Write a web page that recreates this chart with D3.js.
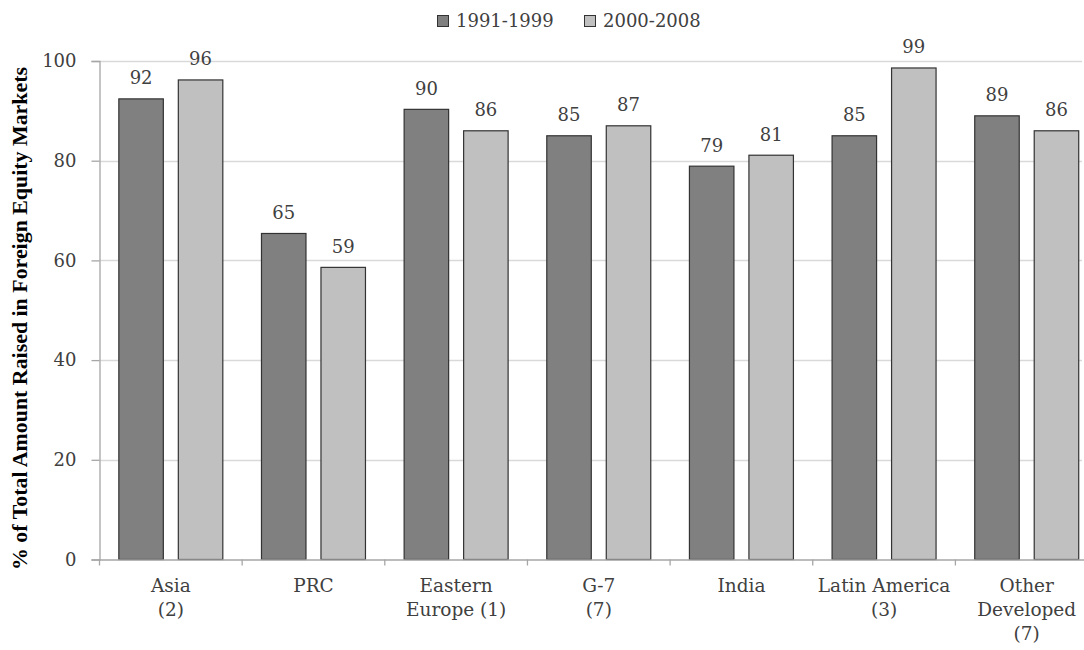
<!DOCTYPE html>
<html><head><meta charset="utf-8">
<script src="https://cdn.jsdelivr.net/npm/d3@7"></script>
<style>body{margin:0;background:#fff}svg{display:block}</style>
</head><body>
<svg id="c" width="1084" height="650"></svg>
<script>
const categories = ["Asia|(2)", "PRC", "Eastern|Europe (1)", "G-7|(7)", "India", "Latin America|(3)", "Other|Developed|(7)"];
const seriesNames = ["1991-1999", "2000-2008"];
const values1991 = [92.4, 65.4, 90.3, 85.0, 78.9, 85.0, 89.0];
const values2000 = [96.2, 58.6, 86.0, 87.0, 81.1, 98.6, 86.0];
const yTicks = [0, 20, 40, 60, 80, 100];
const colors = ["#808080", "#c0c0c0"];

(function() {
const svg = d3.select("#c");
const font = "'DejaVu Serif', serif";
const plotLeft = 99.5, bandW = 142.65, plotTop = 61, plotBottom = 559.5;

const x0 = d3.scaleBand().domain(categories).range([plotLeft, plotLeft + bandW * categories.length]).padding(0);
const x1 = d3.scaleBand().domain(seriesNames).range([0, bandW]).paddingInner(0.252).paddingOuter(0.325);
const y = d3.scaleLinear().domain([0, 100]).range([plotBottom, plotTop]);

// gridlines
svg.append("g").selectAll("line").data(yTicks.filter(d => d > 0)).join("line")
  .attr("x1", plotLeft).attr("x2", 1082)
  .attr("y1", d => Math.round(y(d)) + 0.5).attr("y2", d => Math.round(y(d)) + 0.5)
  .attr("stroke", "#d9d9d9").attr("stroke-width", 1.3);

// y axis
const yAxis = svg.append("g").attr("transform", `translate(${plotLeft},0)`)
  .call(d3.axisLeft(y).tickValues(yTicks).tickSize(8).tickPadding(15));
yAxis.select(".domain").attr("stroke", "#a6a6a6").attr("stroke-width", 1.3);
yAxis.selectAll(".tick line").attr("stroke", "#a6a6a6").attr("stroke-width", 1.3);
yAxis.selectAll(".tick text").attr("font-family", font).attr("font-size", 18).attr("fill", "#404040");

// bars
const data = categories.map((c, i) => ({c, vals: [values1991[i], values2000[i]]}));
const groups = svg.append("g").selectAll("g").data(data).join("g")
  .attr("transform", d => `translate(${x0(d.c)},0)`);
groups.selectAll("rect").data(d => d.vals.map((v, j) => ({s: seriesNames[j], v, j}))).join("rect")
  .attr("x", d => x1(d.s)).attr("width", x1.bandwidth())
  .attr("y", d => y(d.v)).attr("height", d => y(0) - y(d.v))
  .attr("fill", d => colors[d.j]).attr("stroke", "#333").attr("stroke-width", 1.2);
groups.selectAll("text").data(d => d.vals.map((v, j) => ({s: seriesNames[j], v, j}))).join("text")
  .attr("x", d => x1(d.s) + x1.bandwidth() / 2).attr("y", d => y(d.v) - 14.5)
  .attr("text-anchor", "middle").attr("font-family", font).attr("font-size", 18).attr("fill", "#404040")
  .text(d => Math.round(d.v));

// x axis
const xAxis = svg.append("g").attr("transform", `translate(0,${plotBottom})`)
  .call(d3.axisBottom(x0).tickSize(0).tickFormat(""));
xAxis.select(".domain").attr("stroke", "#a6a6a6").attr("stroke-width", 1.3);
const bounds = d3.range(categories.length + 1).map(i => plotLeft + i * bandW);
svg.append("g").selectAll("line").data(bounds).join("line")
  .attr("x1", d => d).attr("x2", d => d).attr("y1", plotBottom).attr("y2", plotBottom + 6)
  .attr("stroke", "#a6a6a6").attr("stroke-width", 1.3);
const labels = svg.append("g").selectAll("text").data(categories).join("text")
  .attr("text-anchor", "middle").attr("font-family", font).attr("font-size", 18.5).attr("fill", "#404040");
labels.each(function(c) {
  const lines = c.split("|");
  d3.select(this).selectAll("tspan").data(lines).join("tspan")
    .attr("x", x0(c) + bandW / 2).attr("y", (d, i) => 591.5 + i * 24).text(d => d);
});

// y title
svg.append("text").attr("transform", "translate(27,318.5) rotate(-90)")
  .attr("text-anchor", "middle").attr("font-family", "'Liberation Serif', serif")
  .attr("font-weight", "bold").attr("font-size", 22).attr("fill", "#000")
  .attr("textLength", 503).attr("lengthAdjust", "spacingAndGlyphs")
  .text("% of Total Amount Raised in Foreign Equity Markets");

// legend
const legendX = [437, 584];
const lg = svg.append("g").selectAll("g").data(seriesNames).join("g")
  .attr("transform", (d, i) => `translate(${legendX[i]},15)`);
lg.append("rect").attr("x", 0.5).attr("y", 0.5).attr("width", 11).attr("height", 11)
  .attr("fill", (d, i) => colors[i]).attr("stroke", "#333").attr("stroke-width", 1);
lg.append("text").attr("x", 19).attr("y", 11.7).attr("font-family", font).attr("font-size", 18)
  .attr("fill", "#404040").text(d => d);
})();
</script>
</body></html>
